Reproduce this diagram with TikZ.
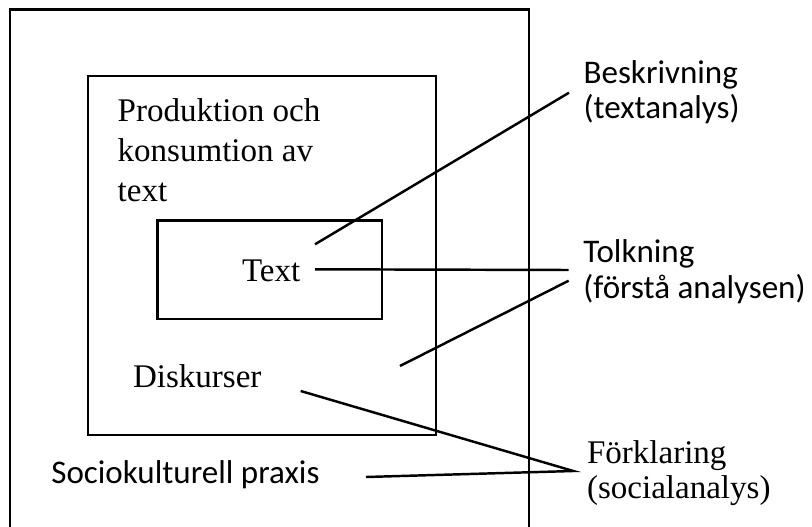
\documentclass[tikz,border=0pt]{standalone}
\usepackage{fontspec}
\setmainfont{Liberation Serif}
\newfontfamily\calibri{Carlito}
\begin{document}
\begin{tikzpicture}[x=0.02cm, y=-0.02cm,
    serif/.style={inner sep=0, anchor=base west, align=left, font=\fontsize{18.8}{22.8}\selectfont},
    sans/.style={inner sep=0, anchor=base west, align=left, font=\calibri\fontsize{18.8}{20.4}\selectfont},
    box/.style={draw, line width=1.6pt},
    link/.style={line width=1.4pt}]
    \useasboundingbox (0,0) rectangle (812,527);

    %boxes
    \draw[line width=1.6pt] (10,540) |- (529,9.5) -- (529,540);
    \draw[box] (88,76) rectangle (436,435);
    \draw[box] (157.3,220.7) rectangle (382,319);

    %texts (multi-line nodes sit on their last baseline)
    \node[serif] (prod) at (117.3,201.7) {Produktion och\\konsumtion av\\text};
    \node[serif] (text) at (241.7,281) {Text};
    \node[serif] (disk) at (132.7,387.7) {Diskurser};
    \node[sans] (socio) at (51,483) {Sociokulturell praxis};

    %labels
    \node[sans] (besk) at (583.3,119) {Beskrivning\\(textanalys)};
    \node[sans, font=\calibri\fontsize{18.8}{20.7}\selectfont] (tolk) at (583,298.5) {Tolkning\\(förstå analysen)};
    \node[serif, font=\fontsize{18.8}{19.7}\selectfont] (forkl) at (586.7,498.5) {Förklaring\\(socialanalys)};

    %ends
    \coordinate (b1) at (315,244.3);
    \coordinate (b2) at (569,92.7);
    \coordinate (t1) at (315,269.3);
    \coordinate (t2) at (568.7,270);
    \coordinate (t3) at (400,366);
    \coordinate (t4) at (568.7,280.7);
    \coordinate (f1) at (300.7,391);
    \coordinate (f2) at (366,477);
    \coordinate (f3) at (573.3,471);

    %lines
    \draw[link] (b1) -- (b2);
    \draw[link] (t1) -- (t2);
    \draw[link] (t3) -- (t4);
    \draw[link] (f1) -- (f3) -- (f2);
\end{tikzpicture}
\end{document}
